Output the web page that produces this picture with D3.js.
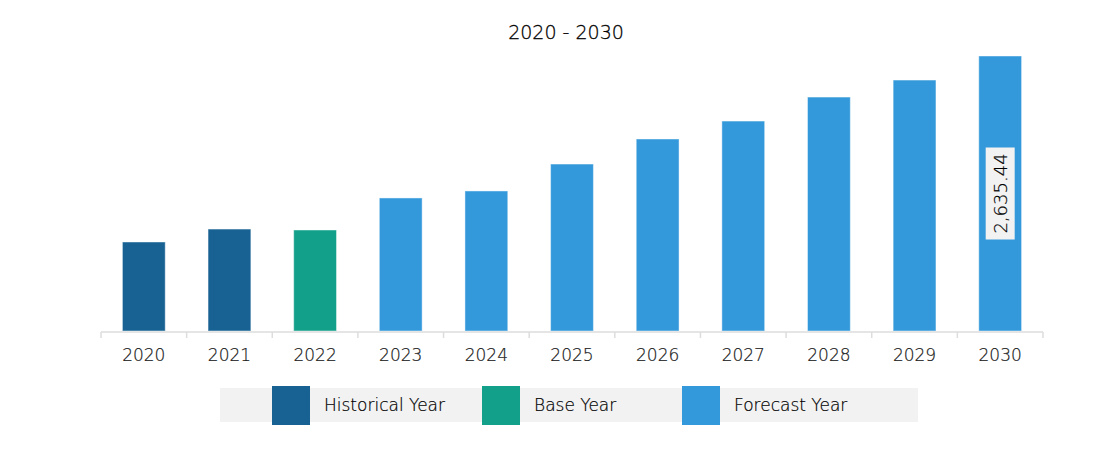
<!DOCTYPE html>
<html>
<head>
<meta charset="utf-8">
<script src="https://cdn.jsdelivr.net/npm/d3@7"></script>
<style>
  body { margin: 0; background: #fff; }
  text { font-family: "DejaVu Sans", sans-serif; font-weight: 200; }
</style>
</head>
<body>
<svg id="chart"></svg>
<script>
const years = ["2020", "2021", "2022", "2023", "2024", "2025", "2026", "2027", "2028", "2029", "2030"]
const values = [853, 977, 968, 1275, 1342, 1600, 1840, 2012, 2242, 2405, 2635.44]
const yearTypes = ["Historical Year", "Historical Year", "Base Year", "Forecast Year", "Forecast Year", "Forecast Year", "Forecast Year", "Forecast Year", "Forecast Year", "Forecast Year", "Forecast Year"]
const legendLabels = ["Historical Year", "Base Year", "Forecast Year"]
const legendColors = ["#176293", "#12a08a", "#3399db"]

const width = 1111, height = 474
const svg = d3.select("svg#chart").attr("width", width).attr("height", height)

const color = d3.scaleOrdinal().domain(legendLabels).range(legendColors)

const x = d3.scaleBand().domain(years).range([101, 1043]).paddingInner(0.5).paddingOuter(0.25)
const y = d3.scaleLinear().domain([0, d3.max(values)]).range([331, 56])

// title
svg.append("text")
    .attr("x", 566).attr("y", 39)
    .attr("text-anchor", "middle")
    .style("font-size", "19px")
    .style("fill", "#000")
    .style("stroke", "#000").style("stroke-width", 0.3)
    .text("2020 - 2030")

// bars
svg.append("g").selectAll("rect")
    .data(values)
    .join("rect")
    .attr("x", (d, i) => x(years[i]))
    .attr("y", d => y(d))
    .attr("width", x.bandwidth())
    .attr("height", d => y(0) - y(d))
    .style("fill", (d, i) => color(yearTypes[i]))
    .style("stroke", "rgba(255,255,255,0.45)")
    .style("stroke-width", 1)

// axis: line, ticks at band boundaries, labels
const axis = svg.append("g")
axis.append("line")
    .attr("x1", 101).attr("x2", 1043)
    .attr("y1", 332).attr("y2", 332)
    .style("stroke", "#ddd").style("stroke-width", 1.5)
const bounds = years.map(d => x(d) + x.bandwidth() / 2 - x.step() / 2)
bounds.push(x(years[years.length - 1]) + x.bandwidth() / 2 + x.step() / 2)
axis.selectAll("line.tick")
    .data(bounds)
    .join("line")
    .attr("class", "tick")
    .attr("x1", d => d).attr("x2", d => d)
    .attr("y1", 332).attr("y2", 338)
    .style("stroke", "#ddd").style("stroke-width", 1.5)
axis.selectAll("text")
    .data(years)
    .join("text")
    .attr("x", d => x(d) + x.bandwidth() / 2)
    .attr("y", 361)
    .attr("text-anchor", "middle")
    .style("font-size", "17px")
    .style("fill", "#1a1a1a")
    .style("stroke", "#1a1a1a").style("stroke-width", 0.2)
    .text(d => d)

// value label on the last bar
const last = years.length - 1
const lx = x(years[last]) + x.bandwidth() / 2
const ly = (y(values[last]) + y(0)) / 2
const valueLabel = svg.append("g").attr("transform", `translate(${lx},${ly}) rotate(-90)`)
valueLabel.append("rect")
    .attr("x", -46).attr("y", -14.5)
    .attr("width", 92).attr("height", 29)
    .style("fill", "#f2f2f2")
valueLabel.append("text")
    .attr("text-anchor", "middle")
    .attr("dy", "0.36em")
    .style("font-size", "18px")
    .style("fill", "#000")
    .style("stroke", "#000").style("stroke-width", 0.2)
    .text(d3.format(",.2f")(values[last]))

// legend
const legend = svg.append("g")
legend.append("rect")
    .attr("x", 220).attr("y", 388)
    .attr("width", 698).attr("height", 34)
    .style("fill", "#f2f2f2")
const legendX = [272, 482, 682]
legendLabels.forEach((label, i) => {
    legend.append("rect")
        .attr("x", legendX[i]).attr("y", 386)
        .attr("width", 38).attr("height", 39)
        .style("fill", color(label))
    legend.append("text")
        .attr("x", legendX[i] + 52).attr("y", 411)
        .style("font-size", "17px")
        .style("fill", "#000")
        .style("stroke", "#000").style("stroke-width", 0.2)
        .text(label)
})
</script>
</body>
</html>
